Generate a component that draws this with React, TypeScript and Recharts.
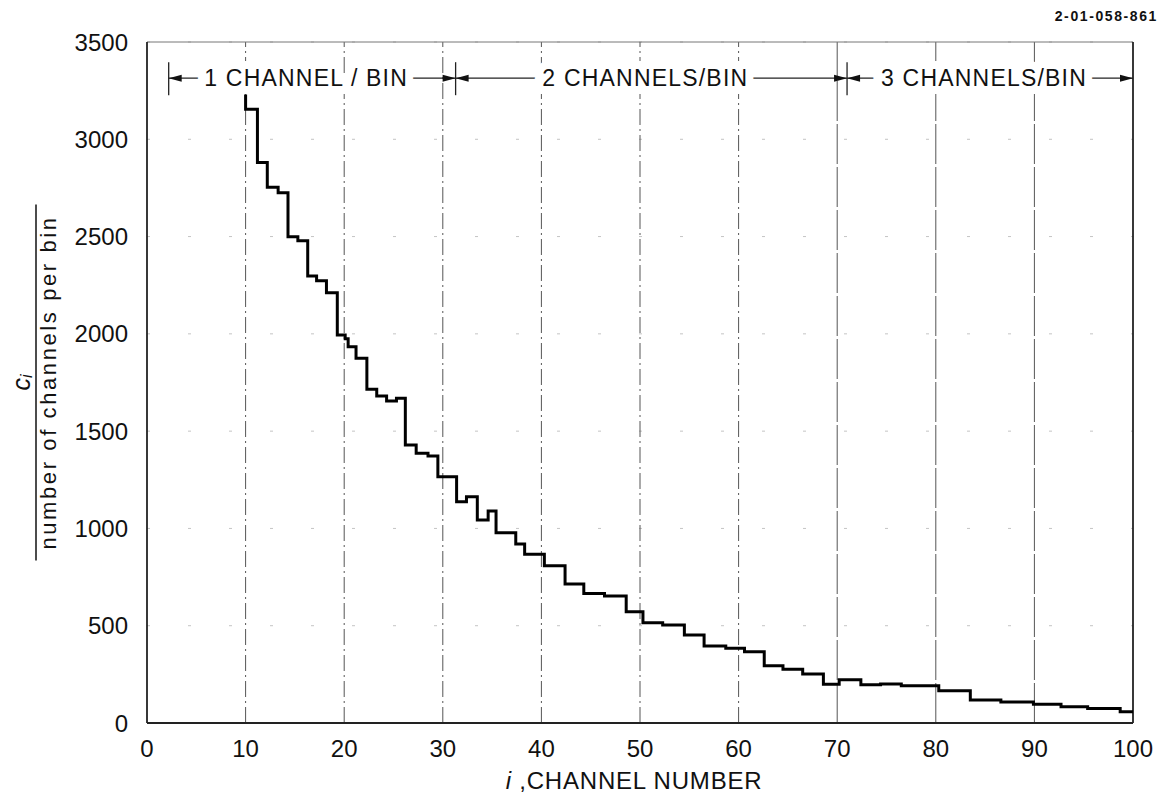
import React from 'react';
import { LineChart, Line, XAxis, YAxis, CartesianGrid, ReferenceLine, Label } from 'recharts';

// Step edges (channel number where each bin level starts) and level per bin
const channelEdges = [
  10, 10, 11.2, 12.2, 13.3, 14.3, 15.3, 16.3, 17.2, 18.2, 19.3, 20.1, 20.4, 21.2, 22.3,
  23.3, 24.3, 25.3, 26.2, 27.3, 28.5, 29.5, 31.4, 32.4, 33.5, 34.6, 35.4, 37.4, 38.3,
  40.3, 42.4, 44.3, 46.4, 48.6, 50.3, 52.3, 54.5, 56.5, 58.7, 60.6, 62.6, 64.5, 66.5,
  68.6, 70.2, 72.4, 74.4, 76.5, 80.3, 83.5, 86.6, 89.9, 92.7, 95.4, 98.7, 100,
];
const binValues = [
  3230, 3154, 2881, 2753, 2725, 2499, 2478, 2297, 2273, 2211, 1994, 1975, 1934, 1874, 1715,
  1680, 1655, 1669, 1429, 1386, 1372, 1266, 1137, 1163, 1043, 1089, 978, 920, 867,
  808, 714, 666, 653, 572, 515, 504, 452, 396, 384, 366, 294, 276, 252,
  199, 222, 196, 201, 191, 166, 118, 108, 96, 84, 75, 58, 58,
];

const xTicks = [0, 10, 20, 30, 40, 50, 60, 70, 80, 90, 100];
const yTicks = [0, 500, 1000, 1500, 2000, 2500, 3000, 3500];
const dashedGridChannels = [10, 20, 30, 40, 50, 60];
const solidGridChannels = [70, 80, 90];

const binGroupStarts = [2.2, 31.3, 71];
const binGroupEnds = [31.3, 71, 100];
const binGroupLabels = ['1 CHANNEL / BIN', '2 CHANNELS/BIN', '3 CHANNELS/BIN'];
const binGroupLevel = 3314;

const figureId = '2-01-058-861';
const yTitleTop = 'c';
const yTitleSub = 'i';
const yTitleBottom = 'number of channels per bin';
const xTitleItalic = 'i';
const xTitleRest = ' ,CHANNEL NUMBER';

const data = channelEdges.map((c, i) => ({ ch: c, v: binValues[i] }));

const FONT = "'Liberation Sans', Arial, Helvetica, sans-serif";

const makeBinShape = (label: string) => (props: any) => {
  const { x1, y1, x2 } = props;
  const y = y1;
  const ah = 13;
  const aw = 3.5;
  const cx = (x1 + x2) / 2 - 6;
  return (
    <g>
      <line x1={x1} y1={y - 16} x2={x1} y2={y + 17} stroke="#222" strokeWidth={1.3} />
      <line x1={x1} y1={y} x2={x2} y2={y} stroke="#222" strokeWidth={1.3} />
      <polygon points={`${x1},${y} ${x1 + ah},${y - aw} ${x1 + ah},${y + aw}`} fill="#111" />
      <polygon points={`${x2},${y} ${x2 - ah},${y - aw} ${x2 - ah},${y + aw}`} fill="#111" />
      <text
        x={cx}
        y={y + 8}
        textAnchor="middle"
        fontSize={23}
        fontFamily={FONT}
        letterSpacing={1.2}
        fill="#111"
        stroke="#fff"
        strokeWidth={16}
        paintOrder="stroke"
      >
        {label}
      </text>
    </g>
  );
};

const XTitle = (props: any) => {
  const vb = props.viewBox || { x: 147, y: 723, width: 986, height: 83 };
  return (
    <text
      x={vb.x + vb.width / 2 - 6}
      y={vb.y + 66}
      textAnchor="middle"
      fontSize={24}
      fontFamily={FONT}
      letterSpacing={0.8}
      fill="#111"
    >
      <tspan fontStyle="italic">{xTitleItalic}</tspan>
      <tspan>{xTitleRest}</tspan>
    </text>
  );
};

const YTitle = (props: any) => {
  const vb = props.viewBox || { x: 0, y: 42, width: 147, height: 681 };
  const cy = vb.y + vb.height / 2;
  const half = 178;
  return (
    <g>
      <text
        x={21}
        y={cy}
        transform={`rotate(-90, 21, ${cy})`}
        textAnchor="middle"
        dominantBaseline="central"
        fontSize={25}
        fontFamily={FONT}
        fill="#111"
      >
        <tspan fontStyle="italic">{yTitleTop}</tspan>
        <tspan fontStyle="italic" fontSize={16} dy={5}>{yTitleSub}</tspan>
      </text>
      <line x1={36} y1={cy - half} x2={36} y2={cy + half} stroke="#111" strokeWidth={1.5} />
      <text
        x={48}
        y={cy}
        transform={`rotate(-90, 48, ${cy})`}
        textAnchor="middle"
        dominantBaseline="central"
        fontSize={22}
        letterSpacing={2.6}
        fontFamily={FONT}
        fill="#111"
      >
        {yTitleBottom}
      </text>
    </g>
  );
};

export default function App() {
  return (
    <div style={{ position: 'absolute', left: 0, top: 0, width: 1167, height: 806, background: '#fff' }}>
      <div
        style={{
          position: 'absolute',
          left: 1000,
          top: 8,
          width: 158,
          textAlign: 'right',
          fontFamily: FONT,
          fontSize: 14,
          fontWeight: 'bold',
          letterSpacing: 1.6,
          color: '#111',
        }}
      >
        {figureId}
      </div>
      <LineChart
        width={1167}
        height={806}
        data={data}
        margin={{ top: 42, right: 34, bottom: 0, left: 0 }}
      >
        <CartesianGrid vertical={false} stroke="#c4c4c4" strokeDasharray="3 38" />
        {dashedGridChannels.map((c) => (
          <ReferenceLine
            key={'g' + c}
            x={c}
            stroke="#555"
            strokeWidth={1}
            strokeDasharray="16 4 2 4"
          />
        ))}
        {solidGridChannels.map((c) => (
          <ReferenceLine
            key={'s' + c}
            x={c}
            stroke="#555"
            strokeWidth={1}
            strokeDasharray="40 3"
          />
        ))}
        <ReferenceLine y={3500} stroke="#777" strokeWidth={1} />
        <ReferenceLine x={100} stroke="#222" strokeWidth={1.8} />
        <XAxis
          dataKey="ch"
          type="number"
          domain={[0, 100]}
          ticks={xTicks}
          interval={0}
          allowDataOverflow
          height={83}
          tickLine={false}
          tickSize={0}
          tickMargin={17}
          axisLine={{ stroke: '#222', strokeWidth: 1.8 }}
          tick={{ fontSize: 24, fill: '#111', fontFamily: FONT }}
        >
          <Label content={<XTitle />} />
        </XAxis>
        <YAxis
          type="number"
          domain={[0, 3500]}
          ticks={yTicks}
          interval={0}
          allowDataOverflow
          width={147}
          tickLine={false}
          tickSize={0}
          tickMargin={19}
          axisLine={{ stroke: '#222', strokeWidth: 1.8 }}
          tick={{ fontSize: 24, fill: '#111', fontFamily: FONT }}
        >
          <Label content={<YTitle />} />
        </YAxis>
        <Line
          type="stepAfter"
          dataKey="v"
          stroke="#000"
          strokeWidth={3}
          dot={false}
          isAnimationActive={false}
        />
        {binGroupLabels.map((lab, i) => (
          <ReferenceLine
            key={'b' + i}
            segment={[
              { x: binGroupStarts[i], y: binGroupLevel },
              { x: binGroupEnds[i], y: binGroupLevel },
            ]}
            shape={makeBinShape(lab)}
          />
        ))}
      </LineChart>
    </div>
  );
}
